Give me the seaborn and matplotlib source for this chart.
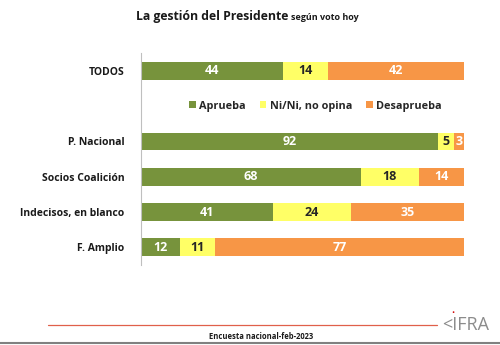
import matplotlib
matplotlib.use("Agg")
import matplotlib.pyplot as plt
import seaborn as sns
import pandas as pd
from matplotlib.patches import Patch

groups = ["TODOS", "P. Nacional", "Socios Coalición", "Indecisos, en blanco", "F. Amplio"]
aprueba = [44, 92, 68, 41, 12]
ninguno = [14, 5, 18, 24, 11]
desaprueba = [42, 3, 14, 35, 77]
series_names = ["Aprueba", "Ni/Ni, no opina", "Desaprueba"]
colors = ["#77933C", "#FFFF66", "#F79646"]
label_colors = ["white", "#262626", "white"]

order = ["TODOS", " ", "P. Nacional", "Socios Coalición", "Indecisos, en blanco", "F. Amplio"]

sns.set_style("white")
plt.rcParams["font.family"] = ["Open Sans", "DejaVu Sans"]

df = pd.DataFrame({"grupo": groups, "a": aprueba, "n": ninguno, "d": desaprueba})
df["c1"] = df["a"]
df["c2"] = df["a"] + df["n"]
df["c3"] = df["a"] + df["n"] + df["d"]

fig = plt.figure(figsize=(5, 3.45), dpi=100)
ax = fig.add_axes([0.282, 0.232, 0.646, 0.614])

for col, c in zip(["c3", "c2", "c1"], colors[::-1]):
    sns.barplot(data=df, y="grupo", x=col, order=order, orient="h", color=c,
                width=0.5, saturation=1, ax=ax, edgecolor="none")

ax.set_xlim(0, 100)
ax.set_ylim(5.5, -0.5)
ax.set_xlabel("")
ax.set_ylabel("")
ax.set_xticks([])
ax.tick_params(axis="y", length=0, pad=12)
for t in ax.get_yticklabels():
    t.set_fontweight("bold")
    t.set_fontsize(7.5)
    t.set_color("#1a1a1a")
for s in ["top", "right", "bottom"]:
    ax.spines[s].set_visible(False)
ax.spines["left"].set_color("#bfbfbf")
ax.spines["left"].set_linewidth(0.8)

pos = {g: order.index(g) for g in groups}
for i, g in enumerate(groups):
    start = 0
    for vals, lc in zip([aprueba, ninguno, desaprueba], label_colors):
        v = vals[i]
        ax.text(start + v / 2, pos[g], str(v), ha="center", va="center",
                color=lc, fontsize=9, fontweight="bold")
        start += v

handles = [Patch(facecolor=c, edgecolor="none", label=n) for c, n in zip(colors, series_names)]
ax.legend(handles=handles, loc="center", bbox_to_anchor=(0.54, (5.5 - 1) / 6), ncol=3,
          frameon=False, handlelength=0.6, handleheight=0.6, handletextpad=0.3,
          columnspacing=1.3, prop={"weight": "bold", "size": 7.8})

fig.text(0.576, 0.952, "La gestión del Presidente", ha="right", va="center",
         fontsize=8.8, fontweight="bold", color="#1a1a1a")
fig.text(0.582, 0.950, "según voto hoy", ha="left", va="center",
         fontsize=6.5, fontweight="bold", color="#1a1a1a")

fig.add_artist(plt.Line2D([0.096, 0.874], [0.058, 0.058], color="#E0604A", lw=0.9))
fig.add_artist(plt.Line2D([0, 1], [0.006, 0.006], color="#808080", lw=1.5))
fig.text(0.522, 0.024, "Encuesta nacional-feb-2023", ha="center", va="center",
         fontsize=5.5, fontweight="bold", color="#1a1a1a")
fig.text(0.884, 0.058, "<IFRA", ha="left", va="center", fontsize=13,
         color="#8c8c8c")
fig.text(0.905, 0.09, "•", ha="center", va="center", fontsize=6, color="#d00000")

fig.savefig("out.png", dpi=100)
